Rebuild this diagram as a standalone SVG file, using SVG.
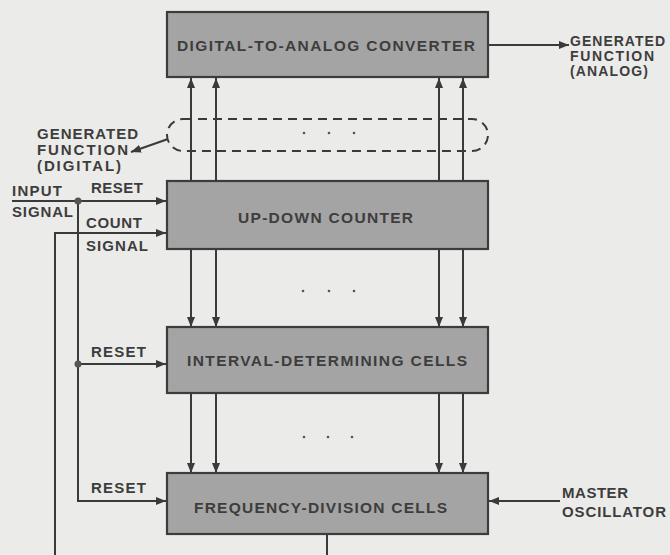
<svg xmlns="http://www.w3.org/2000/svg" width="670" height="555" viewBox="0 0 670 555">
<defs>
<marker id="ah" viewBox="0 0 10 8" refX="10" refY="4" markerWidth="10" markerHeight="8" markerUnits="userSpaceOnUse" orient="auto">
<path d="M0,0 L10,4 L0,8 Z" fill="#3a3a3a"/>
</marker>
<style>
.box{fill:#a4a4a4;stroke:#3c3c3c;stroke-width:2.2}
.ln{fill:none;stroke:#3a3a3a;stroke-width:2}
.arr{fill:none;stroke:#3a3a3a;stroke-width:2;marker-end:url(#ah)}
.dash{fill:none;stroke:#3a3a3a;stroke-width:2;stroke-dasharray:9 6}
.t{font-family:"Liberation Sans",Arial,sans-serif;font-weight:bold;font-size:15.5px;fill:#3d3d3d}
.lt{font-family:"Liberation Sans",Arial,sans-serif;font-weight:bold;font-size:15px;fill:#3d3d3d}
.rt{font-family:"Liberation Sans",Arial,sans-serif;font-weight:bold;font-size:14px;fill:#3d3d3d}
.dot{fill:#555}
</style>
</defs>
<rect width="670" height="555" fill="#ebebe9"/>
<g id="connectors">
<line class="arr" x1="191" y1="181" x2="191" y2="78"/>
<line class="arr" x1="216" y1="181" x2="216" y2="78"/>
<line class="arr" x1="439" y1="181" x2="439" y2="78"/>
<line class="arr" x1="463" y1="181" x2="463" y2="78"/>
<line class="arr" x1="191" y1="249" x2="191" y2="327"/>
<line class="arr" x1="216" y1="249" x2="216" y2="327"/>
<line class="arr" x1="439" y1="249" x2="439" y2="327"/>
<line class="arr" x1="463" y1="249" x2="463" y2="327"/>
<line class="arr" x1="191" y1="393" x2="191" y2="473"/>
<line class="arr" x1="216" y1="393" x2="216" y2="473"/>
<line class="arr" x1="439" y1="393" x2="439" y2="473"/>
<line class="arr" x1="463" y1="393" x2="463" y2="473"/>
<line class="arr" x1="488" y1="45" x2="569" y2="45"/>
<line class="arr" x1="560" y1="501" x2="489" y2="501"/>
<line class="arr" x1="12" y1="201" x2="166" y2="201"/>
<polyline class="ln" points="78,201 78,501 100,501"/>
<line class="arr" x1="78" y1="501" x2="166" y2="501"/>
<line class="arr" x1="78" y1="364" x2="166" y2="364"/>
<circle class="dot" cx="78" cy="201" r="3.5"/>
<circle class="dot" cx="78" cy="364" r="3.5"/>
<polyline class="ln" points="55,555 55,233 100,233"/>
<line class="arr" x1="55" y1="233" x2="166" y2="233"/>
<line class="ln" x1="327" y1="534" x2="327" y2="555"/>
<path class="dash" d="M183,119 L472,119 A16,16 0 0 1 472,151 L183,151 A16,16 0 0 1 183,119 Z"/>
<line class="arr" x1="168" y1="139" x2="131" y2="152"/>
</g>
<g id="dots">
<circle class="dot" cx="304" cy="133" r="1.3"/>
<circle class="dot" cx="329" cy="133" r="1.3"/>
<circle class="dot" cx="354" cy="133" r="1.3"/>
<circle class="dot" cx="303" cy="291" r="1.3"/>
<circle class="dot" cx="329" cy="291" r="1.3"/>
<circle class="dot" cx="354" cy="291" r="1.3"/>
<circle class="dot" cx="304" cy="437" r="1.3"/>
<circle class="dot" cx="328" cy="437" r="1.3"/>
<circle class="dot" cx="352" cy="437" r="1.3"/>
</g>
<g id="dac">
<rect class="box" x="167" y="12" width="321" height="65"/>
<text class="t" x="177" y="51" textLength="298" lengthAdjust="spacing">DIGITAL-TO-ANALOG CONVERTER</text>
</g>
<g id="counter">
<rect class="box" x="167" y="181" width="321" height="68"/>
<text class="t" x="238" y="223" textLength="175" lengthAdjust="spacing">UP-DOWN COUNTER</text>
</g>
<g id="interval">
<rect class="box" x="167" y="327" width="321" height="66"/>
<text class="t" x="187" y="366" textLength="280" lengthAdjust="spacing">INTERVAL-DETERMINING CELLS</text>
</g>
<g id="freq">
<rect class="box" x="167" y="473" width="321" height="61"/>
<text class="t" x="194" y="513" textLength="253" lengthAdjust="spacing">FREQUENCY-DIVISION CELLS</text>
</g>
<g id="labels">
<text class="lt" x="37" y="139" textLength="101" lengthAdjust="spacing">GENERATED</text>
<text class="lt" x="37" y="155" textLength="91" lengthAdjust="spacing">FUNCTION</text>
<text class="lt" x="37" y="171" textLength="84" lengthAdjust="spacing">(DIGITAL)</text>
<text class="rt" x="570" y="46" textLength="95" lengthAdjust="spacing">GENERATED</text>
<text class="rt" x="570" y="61" textLength="84" lengthAdjust="spacing">FUNCTION</text>
<text class="rt" x="570" y="76" textLength="78" lengthAdjust="spacing">(ANALOG)</text>
<text class="lt" x="12" y="196" textLength="50" lengthAdjust="spacing">INPUT</text>
<text class="lt" x="12" y="217" textLength="61" lengthAdjust="spacing">SIGNAL</text>
<text class="lt" x="91" y="193" textLength="52" lengthAdjust="spacing">RESET</text>
<text class="lt" x="86" y="228" textLength="56" lengthAdjust="spacing">COUNT</text>
<text class="lt" x="86" y="251" textLength="62" lengthAdjust="spacing">SIGNAL</text>
<text class="lt" x="91" y="357" textLength="55" lengthAdjust="spacing">RESET</text>
<text class="lt" x="91" y="493" textLength="55" lengthAdjust="spacing">RESET</text>
<text class="lt" x="562" y="498" textLength="66" lengthAdjust="spacing">MASTER</text>
<text class="lt" x="562" y="517" textLength="104" lengthAdjust="spacing">OSCILLATOR</text>
</g>
</svg>
